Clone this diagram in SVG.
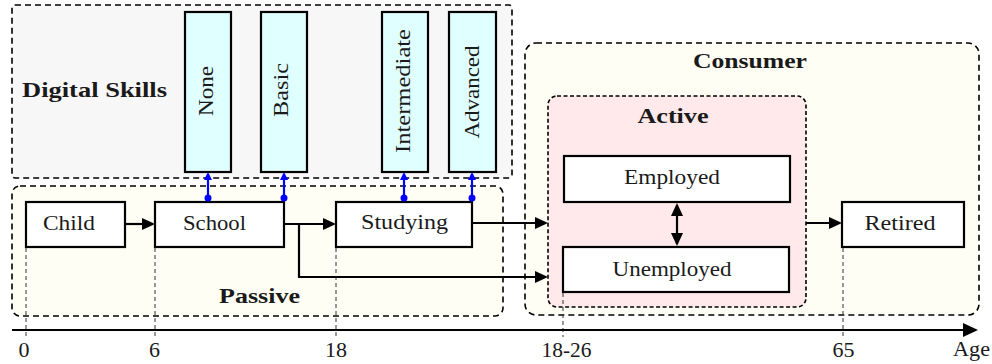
<svg xmlns="http://www.w3.org/2000/svg" width="992" height="364" viewBox="0 0 992 364">
<style>
.t{font-family:"Liberation Serif","DejaVu Serif",serif;font-size:22px;fill:#1a1a1a}
.b{font-weight:bold}
.box{fill:#fff;stroke:#000;stroke-width:2.2}
.skill{fill:#e0ffff;stroke:#000;stroke-width:2.2}
.grp{stroke:#000;stroke-width:1.6;stroke-dasharray:6 4}
.conn{stroke:#000;stroke-width:2.2;fill:none}
.blue{stroke:#0000ff;stroke-width:2.2;fill:none}
.tick{stroke:#333;stroke-width:1;stroke-dasharray:4 3;fill:none}
</style>
<defs>
<marker id="ah" viewBox="0 0 13 12" markerUnits="userSpaceOnUse" markerWidth="13" markerHeight="12" refX="11" refY="6" orient="auto-start-reverse">
<path d="M0,0 L13,6 L0,12 z" fill="#000"/>
</marker>
<marker id="bh" viewBox="0 0 8 8" markerUnits="userSpaceOnUse" markerWidth="8" markerHeight="8" refX="6" refY="4" orient="auto">
<path d="M0,0 L8,4 L0,8 z" fill="#0000ff"/>
</marker>
<marker id="axh" viewBox="0 0 15 14" markerUnits="userSpaceOnUse" markerWidth="15" markerHeight="14" refX="13" refY="7" orient="auto">
<path d="M0,0 L15,7 L0,14 z" fill="#000"/>
</marker>
</defs>

<g id="digital-skills">
<rect x="12" y="5" width="500" height="173" rx="3" fill="#f7f7f7" class="grp"/>
<text class="t b" x="22" y="97" textLength="145" lengthAdjust="spacingAndGlyphs">Digital Skills</text>
</g>
<g id="passive">
<rect x="12" y="186" width="491" height="130" rx="8" fill="#fefef5" class="grp"/>
<text class="t b" x="259.5" y="303" text-anchor="middle" textLength="81" lengthAdjust="spacingAndGlyphs">Passive</text>
</g>
<g id="consumer">
<rect x="525" y="43" width="454" height="272" rx="11" fill="#fefef5" class="grp"/>
<text class="t b" x="750" y="68" text-anchor="middle" textLength="114" lengthAdjust="spacingAndGlyphs">Consumer</text>
</g>
<g id="active">
<rect x="548" y="96" width="258" height="211" rx="9" fill="#ffe9ea" stroke="#000" stroke-width="1.6" stroke-dasharray="4 2.5"/>
<text class="t b" x="673" y="123" text-anchor="middle" textLength="71" lengthAdjust="spacingAndGlyphs">Active</text>
</g>

<g id="none">
<rect class="skill" x="185" y="12" width="46" height="160"/>
<text class="t" transform="translate(213,91) rotate(-90)" text-anchor="middle" textLength="50" lengthAdjust="spacingAndGlyphs">None</text>
</g>
<g id="basic">
<rect class="skill" x="261" y="12" width="46" height="160"/>
<text class="t" transform="translate(288,90) rotate(-90)" text-anchor="middle" textLength="54" lengthAdjust="spacingAndGlyphs">Basic</text>
</g>
<g id="intermediate">
<rect class="skill" x="382" y="12" width="46" height="160"/>
<text class="t" transform="translate(410,91) rotate(-90)" text-anchor="middle" textLength="124" lengthAdjust="spacingAndGlyphs">Intermediate</text>
</g>
<g id="advanced">
<rect class="skill" x="449" y="12" width="47" height="160"/>
<text class="t" transform="translate(479,92) rotate(-90)" text-anchor="middle" textLength="93" lengthAdjust="spacingAndGlyphs">Advanced</text>
</g>

<g id="child">
<rect class="box" x="26" y="202" width="99" height="45"/>
<text class="t" x="69" y="230" text-anchor="middle" textLength="52" lengthAdjust="spacingAndGlyphs">Child</text>
</g>
<g id="school">
<rect class="box" x="155" y="202" width="129" height="45"/>
<text class="t" x="214.5" y="230" text-anchor="middle" textLength="63" lengthAdjust="spacingAndGlyphs">School</text>
</g>
<g id="studying">
<rect class="box" x="336" y="202" width="136" height="45"/>
<text class="t" x="404.5" y="229" text-anchor="middle" textLength="87" lengthAdjust="spacingAndGlyphs">Studying</text>
</g>
<g id="employed">
<rect class="box" x="564" y="156" width="226" height="46"/>
<text class="t" x="672" y="184" text-anchor="middle" textLength="96" lengthAdjust="spacingAndGlyphs">Employed</text>
</g>
<g id="unemployed">
<rect class="box" x="563" y="247" width="226" height="45"/>
<text class="t" x="672" y="275.5" text-anchor="middle" textLength="119" lengthAdjust="spacingAndGlyphs">Unemployed</text>
</g>
<g id="retired">
<rect class="box" x="842" y="202" width="122" height="45"/>
<text class="t" x="900" y="230" text-anchor="middle" textLength="71" lengthAdjust="spacingAndGlyphs">Retired</text>
</g>

<g id="axis">
<path class="tick" d="M26,248 V337 M155,248 V337 M336,248 V337 M563,293 V337 M843,248 V337"/>
<line x1="12" y1="330" x2="976" y2="330" stroke="#000" stroke-width="2.2" marker-end="url(#axh)"/>
<text class="t" x="24" y="357" text-anchor="middle">0</text>
<text class="t" x="154.5" y="357" text-anchor="middle">6</text>
<text class="t" x="336" y="357" text-anchor="middle">18</text>
<text class="t" x="566.5" y="357" text-anchor="middle" textLength="50" lengthAdjust="spacingAndGlyphs">18-26</text>
<text class="t" x="843.5" y="357" text-anchor="middle">65</text>
<text class="t" x="971.5" y="356" text-anchor="middle" textLength="37" lengthAdjust="spacingAndGlyphs">Age</text>
</g>

<g id="connectors">
<line class="conn" x1="125" y1="224" x2="153" y2="224" marker-end="url(#ah)"/>
<line class="conn" x1="284" y1="224" x2="334" y2="224" marker-end="url(#ah)"/>
<polyline class="conn" points="299,224 299,277 546,277" marker-end="url(#ah)"/>
<line class="conn" x1="472" y1="223" x2="546" y2="223" marker-end="url(#ah)"/>
<line class="conn" x1="806" y1="223" x2="840" y2="223" marker-end="url(#ah)"/>
<line class="conn" x1="677" y1="205" x2="677" y2="244" marker-start="url(#ah)" marker-end="url(#ah)"/>
<line class="blue" x1="208" y1="198" x2="208" y2="174" marker-end="url(#bh)"/>
<line class="blue" x1="284" y1="198" x2="284" y2="174" marker-end="url(#bh)"/>
<line class="blue" x1="404" y1="198" x2="404" y2="174" marker-end="url(#bh)"/>
<line class="blue" x1="472" y1="198" x2="472" y2="174" marker-end="url(#bh)"/>
<circle cx="208" cy="198" r="3.5" fill="#0000ff"/>
<circle cx="284" cy="198" r="3.5" fill="#0000ff"/>
<circle cx="404" cy="198" r="3.5" fill="#0000ff"/>
<circle cx="472" cy="198" r="3.5" fill="#0000ff"/>
</g>
</svg>
